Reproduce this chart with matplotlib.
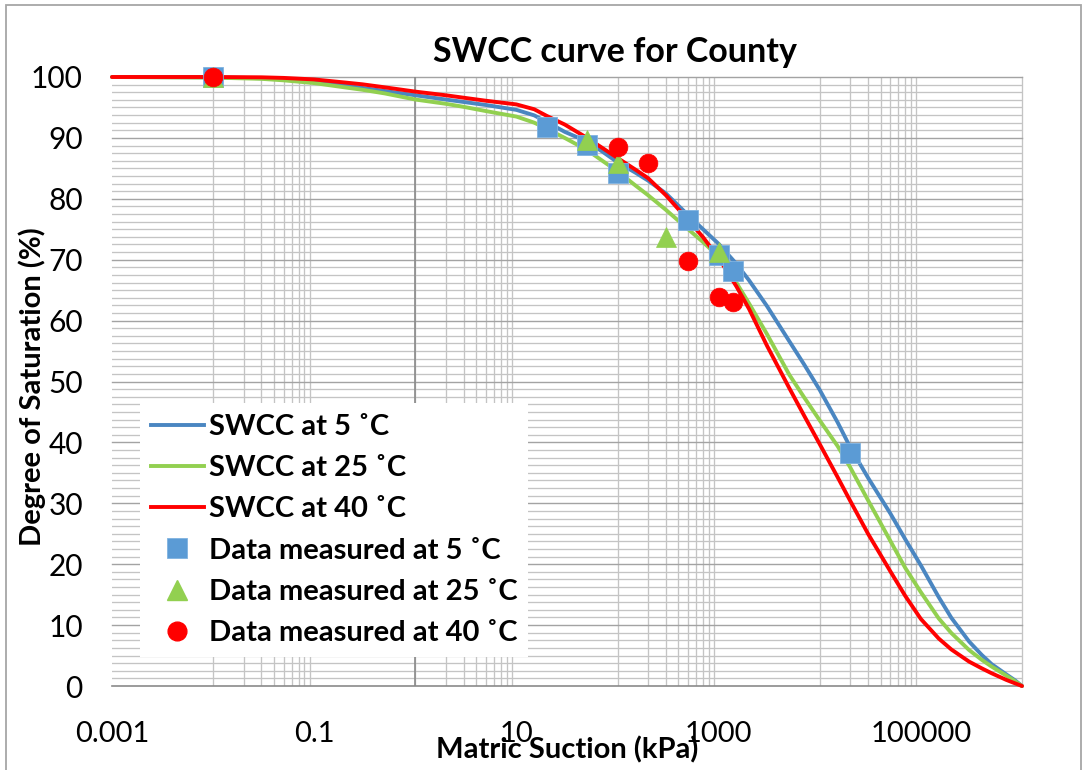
import matplotlib
matplotlib.use("Agg")
import matplotlib.pyplot as plt
from matplotlib.lines import Line2D
from matplotlib.patches import Rectangle
from matplotlib.ticker import NullLocator
import numpy as np

plt.rcParams['font.family'] = ['Lato', 'DejaVu Sans']

# Fitted SWCC curves (suction in kPa, degree of saturation in %)
swcc_suction = [0.001, 0.01, 0.03, 0.05, 0.1, 0.2, 0.3, 0.5, 1, 2, 3, 5, 10, 15, 20,
                30, 50, 70, 100, 150, 200, 300, 500, 700, 1000, 1500, 2000, 3000,
                5000, 7000, 10000, 15000, 20000, 30000, 50000, 70000, 100000,
                150000, 200000, 300000, 400000, 500000, 700000, 850000, 1000000]
swcc_5c = [100.0, 99.95, 99.8, 99.65, 99.2, 98.6, 98.2, 97.7, 97.0, 96.3, 95.9, 95.4,
           94.6, 93.7, 92.6, 91.0, 89.4, 87.8, 86.0, 84.3, 83.0, 80.9, 77.3, 75.0,
           72.6, 69.3, 66.6, 62.4, 56.6, 52.8, 48.6, 43.3, 39.2, 34.2, 28.3, 24.1,
           19.8, 14.6, 11.2, 7.3, 5.1, 3.6, 1.9, 0.95, 0.0]
swcc_25c = [100.0, 99.9, 99.7, 99.45, 99.0, 98.3, 97.9, 97.3, 96.3, 95.6, 95.1, 94.4,
            93.5, 92.5, 91.5, 90.0, 88.0, 86.3, 84.5, 82.2, 80.6, 78.2, 75.0, 72.9,
            70.5, 66.2, 62.8, 57.8, 51.1, 47.4, 43.6, 39.4, 35.9, 30.5, 23.8, 19.4,
            15.4, 11.1, 8.7, 5.9, 4.3, 3.2, 1.7, 0.8, 0.0]
swcc_40c = [100.0, 100.0, 99.95, 99.85, 99.6, 99.1, 98.8, 98.3, 97.6, 97.0, 96.6, 96.1,
            95.5, 94.7, 93.6, 92.2, 90.0, 88.4, 86.7, 84.8, 83.4, 80.6, 76.5, 73.7,
            70.3, 65.6, 61.9, 55.9, 48.9, 44.4, 39.7, 34.3, 30.4, 25.0, 18.8, 14.8,
            11.0, 7.8, 6.0, 4.0, 2.9, 2.1, 1.0, 0.45, 0.0]

# Measured data points
meas_5c_suction = [0.01, 20, 50, 100, 500, 1000, 1400, 20000]
meas_5c_sat = [100.0, 91.8, 88.8, 84.2, 76.5, 70.8, 68.1, 38.3]
meas_25c_suction = [0.01, 50, 100, 300, 1000]
meas_25c_sat = [100.0, 89.7, 85.9, 73.7, 71.3]
meas_40c_suction = [0.01, 100, 200, 500, 1000, 1400]
meas_40c_sat = [100.0, 88.5, 85.9, 69.8, 63.9, 63.1]

x_tick_values = [1e-3, 1e-1, 1e1, 1e3, 1e5]
x_tick_labels = ['0.001', '0.1', '10', '1000', '100000']
y_tick_values = list(range(0, 101, 10))

BLUE_LINE = '#4A86C1'
BLUE_MARK = '#5B9BD5'
GREEN = '#92D050'
RED = '#FF0000'

W, H = 1088, 770
fig = plt.figure(figsize=(W / 100, H / 100), dpi=100)
ax = fig.add_axes([112 / W, 1 - 686 / H, 910 / W, 609 / H])
ax.set_xscale('log')
ax.set_xlim(1e-3, 1e6)
ax.set_ylim(0, 100)
for s in ax.spines.values():
    s.set_visible(False)

# Grid: light minor lines, darker major horizontal lines
minor_c = '#C4C4C4'
major_c = '#A3A3A3'
for n in (-2, 0, 2, 4):
    for k in range(1, 10):
        ax.axvline(k * 10.0 ** n, color=minor_c, lw=0.95, zorder=0)
ax.axvline(1e6, color=minor_c, lw=0.95, zorder=0, clip_on=False)
for v in np.arange(0, 100.01, 1.25):
    if abs(v % 10) > 1e-6:
        ax.axhline(v, color=minor_c, lw=0.95, zorder=0)
for v in range(10, 101, 10):
    ax.axhline(v, color=major_c, lw=1.0, zorder=0.5, clip_on=False)

# Axis lines (vertical axis crosses at 1 kPa)
ax.axhline(0, color='#8A8A8A', lw=1.2, zorder=1, clip_on=False)
ax.axvline(1, color='#8A8A8A', lw=1.2, zorder=1)

# Curves
for sat, col in ((swcc_5c, BLUE_LINE), (swcc_25c, GREEN), (swcc_40c, RED)):
    ax.plot(swcc_suction, sat, color=col, lw=2.8, zorder=3,
            solid_joinstyle='round', solid_capstyle='round', clip_on=False)

# Measured points
ax.plot(meas_5c_suction, meas_5c_sat, ls='none', marker='s', ms=15,
        mfc=BLUE_MARK, mec='#7FB2E0', mew=0.6, zorder=4, clip_on=False)
ax.plot(meas_25c_suction, meas_25c_sat, ls='none', marker='^', ms=15,
        mfc=GREEN, mec=GREEN, mew=0.5, zorder=5, clip_on=False)
ax.plot(meas_40c_suction, meas_40c_sat, ls='none', marker='o', ms=13.5,
        mfc=RED, mec=RED, mew=0.5, zorder=6, clip_on=False)

# Ticks
ax.set_xticks(x_tick_values)
ax.set_xticklabels(x_tick_labels)
ax.xaxis.set_minor_locator(NullLocator())
ax.set_yticks(y_tick_values)
ax.set_yticklabels([str(v) for v in y_tick_values])
ax.tick_params(axis='x', length=0, pad=25, labelsize=21)
ax.tick_params(axis='y', length=0, pad=21, labelsize=21.5)

# Titles
fig.text(615 / W, 1 - 52 / H, 'SWCC curve for County', ha='center', va='center',
         fontsize=24.5, fontweight='bold')
fig.text(567 / W, 1 - 750 / H, 'Matric Suction (kPa)', ha='center', va='center',
         fontsize=21, fontweight='bold')
fig.text(32 / W, 1 - 387 / H, 'Degree of Saturation (%)', ha='center', va='center',
         rotation=90, fontsize=21, fontweight='bold')

# Legend
handles = [
    Line2D([], [], color=BLUE_LINE, lw=2.8),
    Line2D([], [], color=GREEN, lw=2.8),
    Line2D([], [], color=RED, lw=2.8),
    Line2D([], [], ls='none', marker='s', ms=15, mfc=BLUE_MARK, mec='#7FB2E0', mew=0.6),
    Line2D([], [], ls='none', marker='^', ms=15, mfc=GREEN, mec=GREEN),
    Line2D([], [], ls='none', marker='o', ms=13.5, mfc=RED, mec=RED),
]
labels = ['SWCC at 5 ˚C', 'SWCC at 25 ˚C', 'SWCC at 40 ˚C',
          'Data measured at 5 ˚C', 'Data measured at 25 ˚C', 'Data measured at 40 ˚C']
leg = ax.legend(handles, labels, loc='upper left',
                bbox_to_anchor=(140 / W, 1 - 403 / H), bbox_transform=fig.transFigure,
                frameon=True, fancybox=False, framealpha=1, facecolor='white',
                edgecolor='none', prop={'weight': 'bold', 'size': 21},
                handlelength=1.8, handletextpad=0.17, labelspacing=0.52,
                borderpad=0.38, borderaxespad=0, numpoints=1)
leg.set_zorder(10)

# Chart area border
fig.patches.append(Rectangle((6 / W, -0.02), 1075 / W, 1 - 5 / H + 0.02,
                             transform=fig.transFigure, fill=False,
                             edgecolor='#A6A6A6', lw=1.3))

fig.savefig('out.png', dpi=100)
